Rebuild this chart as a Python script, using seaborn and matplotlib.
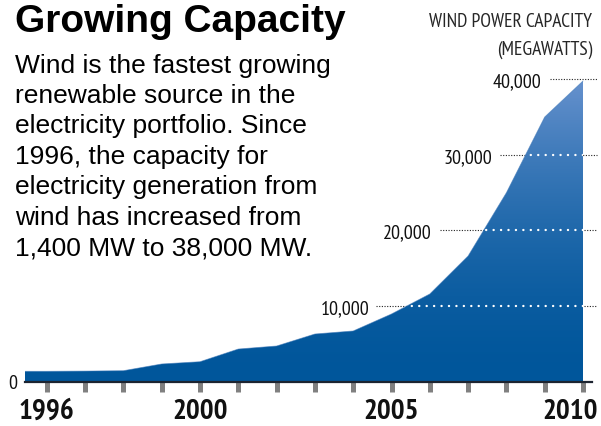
import numpy as np
import pandas as pd
import matplotlib.pyplot as plt
import seaborn as sns
from matplotlib.ticker import FixedLocator, FixedFormatter
from matplotlib.transforms import ScaledTranslation

# data (installed wind capacity, MW)
years = [1995, 1996, 1997, 1998, 1999, 2000, 2001, 2002, 2003,
         2004, 2005, 2006, 2007, 2008, 2009, 2010]
capacity_mw = [1350, 1350, 1380, 1430, 2320, 2620, 4300, 4700, 6290,
               6690, 8940, 11590, 16620, 25000, 35030, 39800]

grid_levels = [10000, 20000, 30000, 40000]
grid_labels = ['10,000', '20,000', '30,000', '40,000']
tick_years = list(range(1996, 2011))
shown_years = ['1996', '2000', '2005', '2010']

title = 'Growing Capacity'
blurb = ['Wind is the fastest growing',
         'renewable source in the',
         'electricity portfolio. Since',
         '1996, the capacity for',
         'electricity generation from',
         'wind has increased from',
         '1,400 MW to 38,000 MW.']
unit_lines = ['WIND POWER CAPACITY', '(MEGAWATTS)']

df = pd.DataFrame({'year': years, 'mw': capacity_mw})

sns.set_theme(style='white')
plt.rcParams['font.family'] = ['Liberation Sans', 'DejaVu Sans']
narrow = ['PT Sans Narrow', 'Fira Sans Condensed', 'DejaVu Sans']

W, H = 601, 427
fig = plt.figure(figsize=(W / 100, H / 100), dpi=100)
ax = fig.add_axes([25 / W, (H - 382.5) / H, 567 / W, 382.5 / H])

x0, x1 = 1995.43, 2010.235
ytop = 50660

# area outline -> gradient clipped to it
area = ax.fill_between(df['year'], df['mw'], 0, facecolor='none', edgecolor='none', zorder=1)
clip = area.get_paths()[0]

dark = np.array([0, 86, 155]) / 255
light = np.array([103, 146, 206]) / 255
v = np.linspace(0, ytop, 400)
t = np.clip(v / 40000, 0, 1) ** 1.7
grad = dark[None, :] + (light - dark)[None, :] * t[:, None]
grad = np.repeat(grad[:, None, :], 2, axis=1)
im = ax.imshow(grad, extent=[x0, x1, 0, ytop], origin='lower', aspect='auto', zorder=1)
im.set_clip_path(clip, transform=ax.transData)

sns.lineplot(data=df, x='year', y='mw', ax=ax, color='#3f78b8', lw=0.6, alpha=0.6, zorder=1.2)

# dotted guides: dark outside the area, white inside it
label_x = [2004.43, 2006.05, 2007.62, 2008.92]
line_x = [2004.6, 2006.26, 2007.83, 2009.13]
line_end = 2010.36
ax.hlines(grid_levels, line_x, line_end, colors='#222222', lw=0.8,
          linestyles=(0, (1, 1.4)), clip_on=False, zorder=0.5)
wl = ax.hlines(grid_levels, x0, line_end, colors='white', lw=1.7,
               linestyles=(0, (0.05, 3.1)), zorder=2)
wl.set_capstyle('round')
wl.set_clip_path(clip, transform=ax.transData)

for lx, lev, lab in zip(label_x, grid_levels, grid_labels):
    ax.text(lx, lev, lab, ha='right', va='center_baseline', fontsize=14.5,
            family=narrow, color='#111111')
ax.text(1995.24, 0, '0', ha='right', va='center_baseline', fontsize=14.5,
        family=narrow, color='#111111')

ax.set_xlim(x0, x1)
ax.set_ylim(0, ytop)
ax.set_yticks([])
ax.set_xlabel('')
ax.set_ylabel('')
sns.despine(ax=ax, left=True)
ax.spines['bottom'].set_color('#1c2430')
ax.spines['bottom'].set_linewidth(1.6)
ax.spines['bottom'].set_zorder(3)

ax.xaxis.set_major_locator(FixedLocator(tick_years))
ax.xaxis.set_major_formatter(FixedFormatter([str(y) if str(y) in shown_years else '' for y in tick_years]))
ax.tick_params(axis='x', bottom=True, direction='out', length=7, width=3.6,
               color='#808080', pad=5, labelsize=21)
for lab in ax.get_xticklabels():
    lab.set_family(narrow)
    lab.set_fontweight('bold')
    lab.set_color('#111111')

# last year label sits a little left of its tick, as in the original
last = ax.xaxis.get_major_ticks()[-1].label1
last.set_transform(last.get_transform() + ScaledTranslation(-13 / 100, 0, fig.dpi_scale_trans))

# text block
fig.text(15 / W, 1 - 32 / H, title, fontsize=28, fontweight='bold', va='baseline', color='black')
for i, line in enumerate(blurb):
    fig.text(15 / W, 1 - (72.5 + i * 30.5) / H, line, fontsize=19, va='baseline', color='black')
fig.text(592 / W, 1 - 27 / H, unit_lines[0], fontsize=14, family=narrow, ha='right', va='baseline')
fig.text(592 / W, 1 - 55 / H, unit_lines[1], fontsize=14, family=narrow, ha='right', va='baseline')

fig.savefig('out.png', dpi=100)
